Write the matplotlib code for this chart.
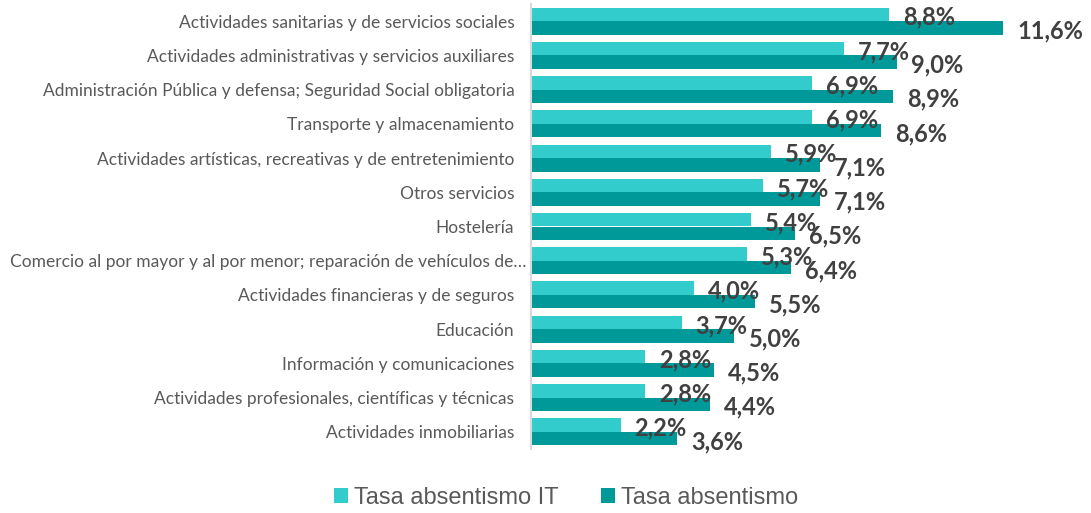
import matplotlib
matplotlib.use("Agg")
import matplotlib.pyplot as plt
import matplotlib.transforms as mtransforms
import numpy as np

categories = [
    "Actividades sanitarias y de servicios sociales",
    "Actividades administrativas y servicios auxiliares",
    "Administración Pública y defensa; Seguridad Social obligatoria",
    "Transporte y almacenamiento",
    "Actividades artísticas, recreativas y de entretenimiento",
    "Otros servicios",
    "Hostelería",
    "Comercio al por mayor y al por menor; reparación de vehículos de…",
    "Actividades financieras y de seguros",
    "Educación",
    "Información y comunicaciones",
    "Actividades profesionales, científicas y técnicas",
    "Actividades inmobiliarias",
]
tasa_it = [8.8, 7.7, 6.9, 6.9, 5.9, 5.7, 5.4, 5.3, 4.0, 3.7, 2.8, 2.8, 2.2]
tasa_abs = [11.6, 9.0, 8.9, 8.6, 7.1, 7.1, 6.5, 6.4, 5.5, 5.0, 4.5, 4.4, 3.6]
series_names = ["Tasa absentismo IT", "Tasa absentismo"]

c_light = "#33CCCC"
c_dark = "#009999"
label_color = "#404040"
cat_color = "#595959"

W, H = 1091, 513
fig = plt.figure(figsize=(W / 100, H / 100), dpi=100)
ax_left = 531 / W
ax_right = 1091 / W
ax_top = 1 - 4 / H
ax_bot = 1 - 449 / H
ax = fig.add_axes([ax_left, ax_bot, ax_right - ax_left, ax_top - ax_bot])

n = len(categories)
y = np.arange(n)
h = 0.395
ax.barh(y - h / 2, tasa_it, height=h, color=c_light, label=series_names[0])
ax.barh(y + h / 2, tasa_abs, height=h, color=c_dark, label=series_names[1])

px_per_unit = (1003 - 531) / 11.6
xmax = (1091 - 531) / px_per_unit
ax.set_xlim(0, xmax)
ax.set_ylim(n - 0.5, -0.5)

for i in range(n):
    ax.annotate(f"{tasa_it[i]:.1f}%".replace(".", ","), (tasa_it[i], y[i] - h / 2),
                xytext=(14, -3), textcoords="offset pixels", ha="left", va="center",
                fontsize=17, fontweight="bold", color=label_color, family="Lato")
    ax.annotate(f"{tasa_abs[i]:.1f}%".replace(".", ","), (tasa_abs[i], y[i] + h / 2),
                xytext=(14, -3), textcoords="offset pixels", ha="left", va="center",
                fontsize=17, fontweight="bold", color=label_color, family="Lato")

ax.set_yticks(y)
ax.set_yticklabels(categories, fontsize=12.5, color=cat_color, family="Lato")
ax.tick_params(axis="y", length=0, pad=12)
for lbl in ax.get_yticklabels():
    if lbl.get_text().endswith("…"):
        lbl.set_transform(lbl.get_transform() +
                          mtransforms.ScaledTranslation(12 / 100, 0, fig.dpi_scale_trans))
ax.set_xticks([])
for s in ["top", "right", "bottom"]:
    ax.spines[s].set_visible(False)
ax.spines["left"].set_color("#D9D9D9")
ax.spines["left"].set_linewidth(1.5)

handles, labels = ax.get_legend_handles_labels()
leg = fig.legend(handles, labels, loc="center", bbox_to_anchor=(566 / W, 1 - 498 / H),
                 ncol=2, frameon=False, handlelength=0.6, handleheight=0.6,
                 handletextpad=0.25, columnspacing=1.8,
                 prop={"family": "Liberation Sans", "size": 17})
for t in leg.get_texts():
    t.set_color(cat_color)

fig.savefig("out.png", dpi=100)
